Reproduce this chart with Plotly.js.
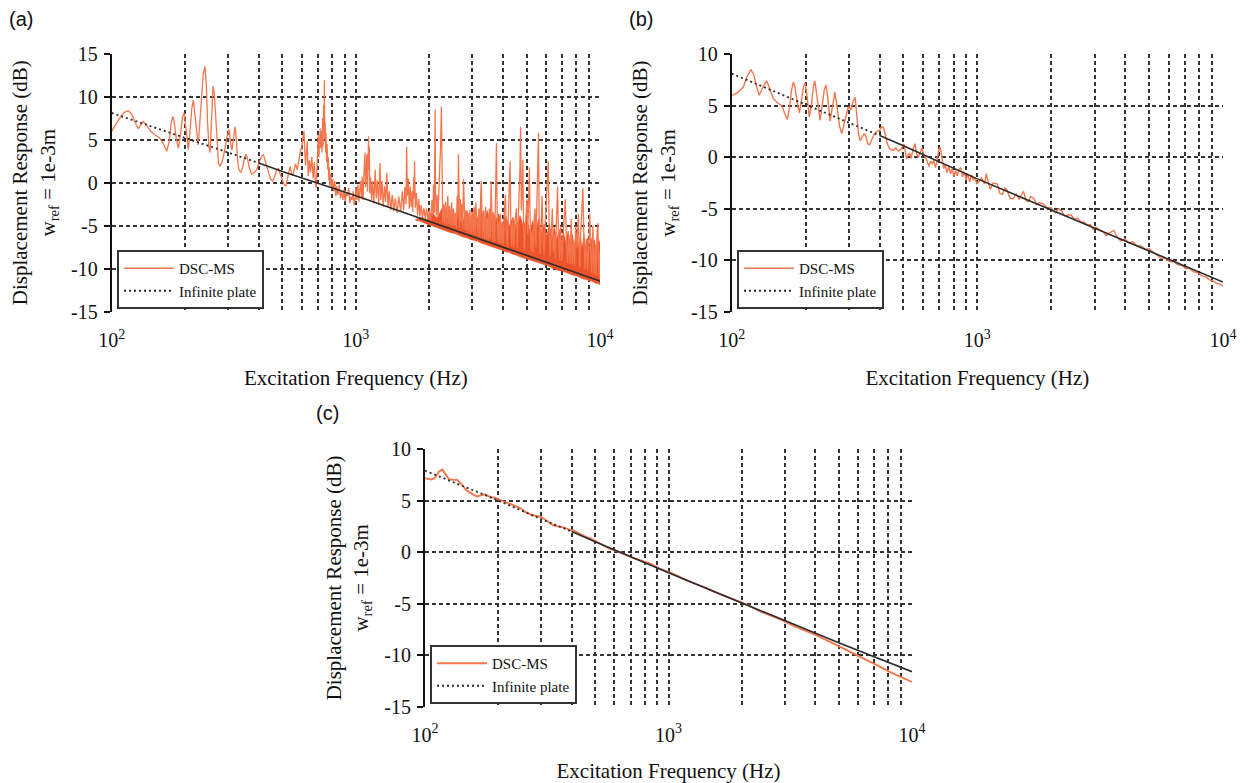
<!DOCTYPE html>
<html>
<head>
<meta charset="utf-8">
<script src="https://cdn.plot.ly/plotly-3.0.1.min.js"></script>
<style>html,body{margin:0;padding:0;background:#fff;}#chart{width:1250px;height:783px;}</style>
</head>
<body>
<div id="chart"></div>
<script>
// ---------------- data (frequency Hz, displacement response dB) ----------------
const FREQ_MAJOR = [100, 1000, 10000];
const FREQ_MAJOR_TEXT = ['10<sup>2</sup>', '10<sup>3</sup>', '10<sup>4</sup>'];
const FREQ_MINOR = [200,300,400,500,600,700,800,900,2000,3000,4000,5000,6000,7000,8000,9000];
const DB_TICKS_A = [-15,-10,-5,0,5,10,15];
const DB_TEXT_A = ['-15','-10','-5','0','5','10','15'];
const DB_TICKS_BC = [-15,-10,-5,0,5,10];
const DB_TEXT_BC = ['-15','-10','-5','0','5','10'];

// Panel (a) DSC-MS
const DSC_A = [
[100,6.0],[104,6.8],[109,7.7],[113,8.2],[117,8.35],[121,7.9],[125,6.9],[128.5,6.3],[131,6.6],[134.7,7.1],
[138,6.8],[144,6.0],[150,5.6],[157,5.2],[163,4.5],[168,3.65],[172,4.8],[175,6.8],[177.8,7.7],[180,7.2],
[184,5.0],[187.6,4.0],[191,5.5],[195,7.6],[198,8.1],[201,6.2],[204,4.2],[206,3.85],[209,5.8],[213,8.7],
[216,9.6],[219,8.0],[223,5.2],[226,4.4],[229,6.5],[233,10.0],[237,12.6],[241,13.5],[244,11.5],[247,7.0],
[250,4.2],[253,3.5],[256,6.5],[258,9.5],[260,11.2],[263,10.5],[267,7.0],[271,3.5],[274,2.2],[278,1.9],
[283,2.4],[290,3.7],[297,5.4],[303,6.15],[307,4.5],[311,3.8],[316,5.4],[320,6.5],[324,5.0],[328,2.5],
[332,1.5],[338,1.2],[344,1.8],[350,2.9],[355,3.3],[360,2.8],[366,1.8],[374,1.0],[382,1.1],[392,1.5],
[400,2.2],[410,3.0],[418,3.3],[426,2.5],[437,1.3],[446,0.5],[456,0.2],[465,0.7],[473,1.4],[482,1.7],
[490,1.0],[500,0.3],[508,-0.2],[517,-0.4],[525,0.6],[532,1.6],[538,1.9],[545,1.1],[552,0.8],[558,1.4],
[566,2.2],[575,1.5],[582,2.6],[590,3.3],[596,4.0],[600,3.85],[605,5.0],[610,6.0],[613,6.0],[617,4.0],
[622,2.0],[627,3.4],[632,4.8],[638,0.8],[645,2.6],[652,1.2],[660,3.0],[668,0.5],[676,2.4],[683,-0.2],
[688,-0.6],[695,2.5],[699,4.5],[702,5.6],[706,3.0],[710,4.8],[715,6.3],[718,4.0],[722,6.0],[727,3.5],
[731,7.5],[734,4.2],[738,9.0],[741,6.0],[743,11.9],[746,5.0],[749,7.0],[752,3.5],[755,5.8],[759,2.4],
[763,4.5],[767,1.5],[771,3.0],[775,0.3],[779,1.8],[783,-0.4],[790,1.0],[797,-0.8],[804,0.4],[812,-1.0],
[820,0.2],[828,-1.6],[836,-0.4],[845,-1.4],[855,-0.2],[865,-1.8],[875,-1.0],[885,-2.0],[895,-0.8],[905,-2.2],
[915,-1.2],[925,-1.5],[935,-0.6],[945,-2.4],[955,-1.6],[965,-2.0],[975,-1.0],[985,-2.6],[995,-1.8],
[1000,-0.5],[1010,-2.0],[1020,-0.2],[1030,-2.2],[1045,0.2],[1055,-1.8],[1062,0.7],[1070,-2.0],[1080,1.2],[1090,3.5],
[1096,-0.5],[1103,2.0],[1110,3.3],[1116,-1.0],[1122,2.8],[1127,5.4],[1131,1.5],[1135,4.2],[1140,-1.2],[1150,0.6],
[1160,-2.0],[1172,0.2],[1185,-2.4],[1200,1.5],[1212,-1.8],[1225,0.3],[1240,-2.6],[1255,2.3],[1265,-2.0],[1280,0.2],
[1295,-2.8],[1310,-0.4],[1325,-2.2],[1340,1.15],[1355,-2.9],[1370,-1.0],[1390,-3.2],[1410,-1.4],[1430,-3.3],[1450,-1.8],
[1475,-3.5],[1500,-1.6],[1525,-3.4],[1550,-1.0],[1570,-3.2],[1590,-0.5],[1605,-2.5],[1615,4.2],[1625,-1.5],[1640,0.5],
[1655,-3.0],[1670,-0.4],[1685,-2.8],[1700,-1.0],[1712,-3.4],[1723,0.6],[1732,-1.8],[1740,2.5],[1752,-2.9],[1770,-1.2],
[1790,-3.8],[1810,-1.9],[1830,-3.9],[1850,-2.6],[1875,-4.1],[1900,-2.9],[1925,-4.2],[1950,-3.0],[1975,-4.4],[2000,-3.2],
[2025,-4.5],[2050,-2.0],[2070,-3.8],[2080,-0.2],[2095,-3.5],[2105,2.5],[2113,8.5],[2120,-1.0],[2135,-3.8],[2150,-1.4],
[2170,-4.0],[2190,-0.6],[2210,1.5],[2225,4.5],[2240,8.85],[2255,-2.0],[2270,-4.6],[2290,-2.5],[2310,-4.8],[2330,-2.2],
[2355,-4.9],[2380,-1.5],[2400,-4.8],[2420,-2.7],[2445,-5.0],[2470,-2.3],[2490,-5.0],[2510,-3.0],[2535,-5.1],[2555,-3.5],
[2580,-5.2],[2600,-1.5],[2615,-4.0],[2632,3.3],[2645,-3.0],[2660,-5.2],[2680,-1.9],[2700,-4.5],[2720,-2.5],[2740,-5.3],
[2760,0.4],[2775,-3.6],[2800,-5.5],[2825,-3.2],[2850,-5.6],[2875,-3.5],[2900,-5.8],[2930,-3.1],[2960,-5.9],[2990,-3.4],
[3020,-6.0],[3050,-2.8],[3080,-6.1],[3100,-2.3],[3130,-5.2],[3160,-6.2],[3190,-3.0],[3220,-6.3],[3245,-1.5],[3265,0.2],
[3285,-4.0],[3310,-6.4],[3340,-3.2],[3370,-6.5],[3400,-2.8],[3430,-6.6],[3460,-4.0],[3490,-6.7],[3520,-3.0],[3550,-6.5],
[3580,0.2],[3600,-4.5],[3630,-6.8],[3660,-3.5],[3700,-6.9],[3730,-2.0],[3767,4.6],[3790,-3.0],[3820,-6.9],[3850,-4.5],
[3880,-7.0],[3910,-3.6],[3945,-7.1],[3980,-4.6],[4020,-7.2],[4060,-3.0],[4100,-1.4],[4130,-5.5],[4170,-7.3],[4210,-4.0],
[4250,-1.0],[4285,2.5],[4310,-4.5],[4350,-7.4],[4390,-4.2],[4430,-7.5],[4480,-4.6],[4540,-3.0],[4580,-7.6],[4620,-5.0],
[4660,-1.5],[4700,1.5],[4730,6.5],[4760,-3.2],[4800,-1.0],[4830,2.7],[4860,-4.8],[4900,-7.8],[4950,-5.0],[5020,-1.9],
[5060,-6.0],[5100,-2.5],[5140,1.8],[5180,-5.5],[5230,-8.0],[5280,-5.5],[5330,-8.1],[5380,-4.0],[5420,-3.0],[5460,-7.5],
[5520,-3.0],[5570,1.5],[5600,5.8],[5630,-3.5],[5680,-8.3],[5740,-5.2],[5790,-1.5],[5840,-6.5],[5900,-8.4],[5960,-5.0],
[6020,-2.5],[6080,-0.5],[6140,2.5],[6190,-5.0],[6250,-8.6],[6320,-5.5],[6380,-3.0],[6440,-8.0],[6500,-6.0],[6560,-8.8],
[6630,-3.5],[6700,-0.4],[6760,-6.0],[6830,-9.0],[6900,-5.0],[6970,-9.1],[7050,-6.5],[7130,-3.8],[7210,-1.9],[7290,-7.0],
[7370,-9.3],[7450,-6.0],[7540,-9.4],[7620,-4.2],[7700,-9.5],[7790,-6.8],[7870,-9.6],[7950,-5.0],[8050,-7.5],[8150,-3.6],
[8250,-9.8],[8350,-5.5],[8430,-3.0],[8510,-0.6],[8600,-7.0],[8700,-10.0],[8800,-6.5],[8900,-10.2],[9000,-7.0],[9080,-3.6],
[9150,-8.0],[9250,-10.4],[9350,-5.0],[9450,-10.6],[9550,-7.5],[9650,-10.8],[9720,-6.0],[9800,-4.7],[9870,-9.0],[9930,-11.0],
[10000,-8.0]
];
// Panel (a) dense resonance band: lower and upper edge of the filled region
const BAND_A_FREQ = [1750,1850,1950,2050,2150,2250,2350,2450,2550,2650,2750,2850,2950,3050,3150,3250,3350,3450,3550,3650,
  3750,3850,3950,4100,4250,4400,4550,4700,4850,5000,5150,5300,5450,5600,5750,5900,6050,6200,6350,6500,
  6650,6800,6950,7100,7250,7400,7550,7700,7850,8000,8150,8300,8450,8600,8750,8900,9050,9200,9350,9500,
  9650,9800,10000];
const BAND_A_LOW = [-4.3,-4.5,-4.8,-5.0,-5.2,-5.4,-5.6,-5.8,-5.9,-6.1,-6.3,-6.4,-6.6,-6.7,-6.8,-7.0,-7.1,-7.2,-7.4,-7.5,
  -7.6,-7.7,-7.8,-8.0,-8.1,-8.3,-8.4,-8.6,-8.7,-8.8,-9.0,-9.1,-9.2,-9.3,-9.4,-9.5,-9.6,-9.7,-9.9,-10.0,
  -10.1,-10.2,-10.2,-10.3,-10.4,-10.5,-10.6,-10.7,-10.8,-10.8,-10.9,-11.0,-11.1,-11.2,-11.2,-11.3,-11.4,-11.4,-11.5,-11.6,
  -11.7,-11.7,-11.8];
const BAND_A_HIGH = [-4.3,-4.0,-4.3,-3.4,-4.1,-3.0,-4.3,-3.2,-4.4,-3.1,-4.4,-3.2,-4.6,-3.0,-4.2,-2.8,-4.4,-3.2,-4.6,-3.4,
  -4.2,-3.6,-4.9,-3.8,-5.0,-4.0,-5.2,-3.8,-5.0,-4.2,-5.6,-4.4,-5.8,-4.2,-5.8,-4.8,-6.2,-4.8,-6.4,-5.2,
  -6.6,-5.4,-6.8,-5.8,-7.0,-5.6,-7.2,-6.0,-7.4,-5.8,-7.4,-6.2,-7.6,-6.0,-7.6,-6.4,-7.8,-6.4,-7.8,-6.6,
  -8.0,-6.4,-7.0];
// Panel (a) infinite plate
const INF_A = [[100,8.1],[200,5.2],[300,3.5],[400,2.3],[500,1.3],[1000,-1.5],[2000,-4.5],[5000,-8.4],[10000,-11.4]];

// Panel (b) DSC-MS
const DSC_B = [
[100,6.0],[105,6.2],[111.5,6.8],[115,7.7],[119.5,8.5],[123,8.0],[126,6.9],[129.5,6.0],[134,6.8],[138.8,7.4],
[143,6.6],[147.7,5.7],[153,5.3],[159.9,5.0],[164,4.3],[168.4,3.65],[172,4.8],[175,6.4],[178.3,7.3],[181,6.8],
[185,5.2],[188.6,4.3],[192,5.4],[196,6.8],[198.8,7.2],[202,6.2],[206.9,3.9],[211,5.0],[215,6.8],[218,7.4],
[222,6.0],[228.9,3.6],[233,4.8],[238,6.5],[242,7.0],[246,5.8],[251.5,3.5],[256,4.8],[263,6.3],[268,5.0],
[275,3.0],[280.5,2.3],[287,3.2],[293,4.2],[298.4,4.9],[306,4.6],[312,5.4],[318,5.8],[323,4.2],[328,2.3],
[333,1.6],[340,1.9],[347,2.3],[352,2.0],[358,1.3],[364,1.2],[372,1.8],[380,2.2],[390,2.5],[400,2.6],
[407,2.9],[414,2.9],[422,2.2],[430,1.3],[440,0.8],[455,0.65],[465,0.9],[478,0.6],[490,0.8],[502,1.3],
[509,0.6],[515,-0.2],[522,0.2],[530,0.4],[538,-0.1],[548,0.8],[558,1.3],[566,0.3],[575,0.0],[585,0.5],
[595,0.9],[605,0.2],[615,0.0],[625,-0.4],[635,-0.9],[645,-0.4],[655,-0.6],[665,-0.3],[675,-1.0],[685,-0.4],
[695,0.6],[705,1.0],[712,0.3],[720,-0.5],[730,-1.1],[740,-0.7],[752,-1.5],[765,-0.9],[778,-1.6],[790,-1.1],
[802,-1.9],[815,-1.3],[828,-1.8],[842,-1.2],[856,-1.0],[870,-1.9],[885,-1.4],[900,-2.2],[915,-1.6],[930,-2.4],
[946,-1.7],[962,-2.2],[978,-2.0],[995,-2.6],
[1010,-2.4],[1040,-2.0],[1070,-2.6],[1087,-1.6],[1110,-2.5],[1130,-3.1],[1160,-2.5],[1206,-2.6],[1235,-3.5],[1265,-3.6],
[1295,-3.0],[1320,-3.2],[1360,-4.0],[1400,-4.0],[1440,-3.6],[1480,-4.1],[1540,-3.3],[1580,-4.2],[1610,-4.3],[1650,-3.8],
[1700,-4.0],[1740,-4.6],[1780,-4.4],[1850,-4.5],[1920,-4.9],[1990,-4.9],[2080,-5.4],[2140,-5.0],[2200,-5.2],[2270,-5.7],
[2340,-5.6],[2410,-5.6],[2480,-6.0],[2560,-5.9],[2640,-6.3],[2720,-6.3],[2800,-6.6],[2880,-6.5],[2960,-7.0],[3050,-6.8],
[3150,-7.1],[3250,-7.2],[3350,-7.6],[3470,-7.3],[3600,-7.1],[3720,-7.8],[3830,-8.1],[3980,-7.9],[4130,-8.3],[4300,-8.2],
[4460,-8.6],[4640,-8.6],[4820,-8.9],[5000,-8.9],[5200,-9.2],[5400,-9.5],[5600,-9.8],[5820,-9.8],[6050,-10.1],[6290,-10.1],
[6530,-10.4],[6790,-10.5],[7050,-10.8],[7320,-10.8],[7600,-11.1],[7900,-11.2],[8200,-11.5],[8520,-11.6],[8850,-11.9],[9120,-12.0],
[9400,-12.2],[9700,-12.3],[10000,-12.5]
];
const INF_B = [[100,8.1],[200,5.1],[300,3.3],[400,2.1],[500,1.1],[1000,-2.1],[2000,-5.1],[5000,-9.1],[10000,-12.1]];

// Panel (c) DSC-MS
const DSC_C = [
[100,7.15],[106.5,7.05],[110,7.2],[114,7.8],[118,8.0],[121,7.6],[125,7.1],[130,7.0],[135.8,7.0],[141,6.6],
[148,6.0],[155,5.7],[163,5.4],[170,5.5],[176.5,5.6],[183,5.4],[190,5.3],[197,5.2],[206,5.0],[216,4.8],
[230,4.6],[245,4.3],[258,3.9],[274,3.6],[287,3.5],[301,3.4],[318,3.0],[336,2.6],[352,2.5],[370,2.4],
[388,2.2],[407,2.1],[430,1.8],[455,1.5],[480,1.3],[507,1.0],[540,0.6],[575,0.3],[632,0.0],[700,-0.5],
[770,-0.8],[837,-1.1],[920,-1.6],[1042,-2.1],[1200,-2.8],[1400,-3.4],[1600,-4.0],[1850,-4.6],[2100,-5.1],[2400,-5.8],
[2870,-6.5],[3300,-7.2],[4000,-8.0],[4700,-8.8],[5400,-9.5],[6300,-10.3],[7200,-11.0],[8200,-11.7],[9100,-12.2],[10000,-12.6]
];
const INF_C = [[100,7.9],[200,5.0],[300,3.2],[400,2.0],[500,1.0],[1000,-2.0],[2000,-4.95],[5000,-8.8],[10000,-11.6]];

const SERIES_NAMES = ['DSC-MS', 'Infinite plate'];
const PANEL_LABELS = ['(a)', '(b)', '(c)'];
const X_TITLE = 'Excitation Frequency (Hz)';
const Y_TITLE = 'Displacement Response (dB)<br>w<sub>ref</sub> = 1e-3m';

// ---------------- styling ----------------
const SERIF = 'Liberation Serif';
const ORANGE = 'rgb(244,118,76)';
const BAND = 'rgb(238,84,44)';
const DARK = '#2b2b2b';
const GRID = '#333333';
const SPLIT = 400; // the reference's dotted plate line looks solid above this

const xs = p => p.map(d => d[0]);
const ys = p => p.map(d => d[1]);
const lowPart = p => p.filter(d => d[0] <= SPLIT);
const highPart = p => p.filter(d => d[0] >= SPLIT);

function panelTraces(dsc, inf, ax, lg, lw) {
  const xa = 'x' + ax, ya = 'y' + ax;
  return [
    {x: xs(dsc), y: ys(dsc), xaxis: xa, yaxis: ya, type: 'scatter', mode: 'lines', name: SERIES_NAMES[0],
     line: {color: ORANGE, width: lw}, legend: lg},
    {x: xs(lowPart(inf)), y: ys(lowPart(inf)), xaxis: xa, yaxis: ya, type: 'scatter', mode: 'lines', name: SERIES_NAMES[1],
     line: {color: DARK, width: 1.8, dash: '2px,3px'}, legend: lg},
    {x: xs(highPart(inf)), y: ys(highPart(inf)), xaxis: xa, yaxis: ya, type: 'scatter', mode: 'lines', name: SERIES_NAMES[1],
     line: {color: DARK, width: 1.6}, showlegend: false}
  ];
}

const bandTrace = {
  x: BAND_A_FREQ.concat(BAND_A_FREQ.slice().reverse()),
  y: BAND_A_HIGH.concat(BAND_A_LOW.slice().reverse()),
  xaxis: 'x', yaxis: 'y', type: 'scatter', mode: 'lines', fill: 'toself',
  fillcolor: BAND, line: {width: 0.6, color: BAND}, showlegend: false, hoverinfo: 'skip'
};

const data = [bandTrace]
  .concat(panelTraces(DSC_A, INF_A, '', 'legend', 1.3))
  .concat(panelTraces(DSC_B, INF_B, '2', 'legend2', 1.4))
  .concat(panelTraces(DSC_C, INF_C, '3', 'legend3', 1.9));

const W = 1250, H = 783;
function xAxis(x0, x1, anchor) {
  return {
    type: 'log', range: [2, 4], domain: [x0 / W, x1 / W], anchor: anchor,
    tickmode: 'array', tickvals: FREQ_MAJOR, ticktext: FREQ_MAJOR_TEXT,
    showgrid: true, gridcolor: GRID, griddash: '4px,3px', gridwidth: 2,
    minor: {tickmode: 'array', tickvals: FREQ_MINOR, showgrid: true, gridcolor: GRID, griddash: '4px,3px', gridwidth: 2, ticks: ''},
    showline: false, zeroline: false, ticks: '', ticklabelstandoff: 14,
    tickfont: {family: SERIF, size: 20, color: '#111'},
    title: {text: X_TITLE, font: {family: SERIF, size: 21, color: '#111'}, standoff: 20}
  };
}
function yAxis(y0, y1, anchor, lo, hi, tv, tt) {
  return {
    range: [lo, hi], domain: [1 - y1 / H, 1 - y0 / H], anchor: anchor,
    tickmode: 'array', tickvals: tv, ticktext: tt,
    showgrid: true, gridcolor: GRID, griddash: '4px,3px', gridwidth: 2,
    showline: true, linecolor: '#111', linewidth: 2, zeroline: false,
    ticks: 'outside', ticklen: 6, tickcolor: '#111', tickwidth: 2, ticklabelstandoff: 2,
    tickfont: {family: SERIF, size: 20, color: '#111'},
    title: {text: Y_TITLE, font: {family: SERIF, size: 21, color: '#111'}, standoff: 10}
  };
}
function legendBox(px, py) {
  return {
    x: px / W, y: 1 - py / H, xanchor: 'left', yanchor: 'bottom', xref: 'paper', yref: 'paper',
    bgcolor: '#fff', bordercolor: '#333', borderwidth: 2,
    font: {family: SERIF, size: 15, color: '#111'}, tracegroupgap: 0, itemwidth: 50
  };
}

const layout = {
  width: W, height: H, margin: {l: 0, r: 0, t: 0, b: 0},
  paper_bgcolor: '#fff', plot_bgcolor: '#fff', showlegend: true,
  xaxis: xAxis(111.7, 600, 'y'),
  yaxis: yAxis(53.5, 312, 'x', -15, 15, DB_TICKS_A, DB_TEXT_A),
  xaxis2: xAxis(731.7, 1223, 'y2'),
  yaxis2: yAxis(54, 312, 'x2', -15, 10, DB_TICKS_BC, DB_TEXT_BC),
  xaxis3: xAxis(425, 912, 'y3'),
  yaxis3: yAxis(449, 706.7, 'x3', -15, 10, DB_TICKS_BC, DB_TEXT_BC),
  legend: legendBox(117, 309),
  legend2: legendBox(737, 309),
  legend3: legendBox(430, 704),
  annotations: [
    {text: PANEL_LABELS[0], x: 7 / W, y: 1 - 6 / H},
    {text: PANEL_LABELS[1], x: 627 / W, y: 1 - 6 / H},
    {text: PANEL_LABELS[2], x: 314 / W, y: 1 - 400 / H}
  ].map(a => Object.assign(a, {xref: 'paper', yref: 'paper', xanchor: 'left', yanchor: 'top', showarrow: false,
    font: {family: 'Liberation Sans', size: 20, color: '#111'}}))
};

Plotly.newPlot('chart', data, layout, {displayModeBar: false, staticPlot: true});
</script>
</body>
</html>
